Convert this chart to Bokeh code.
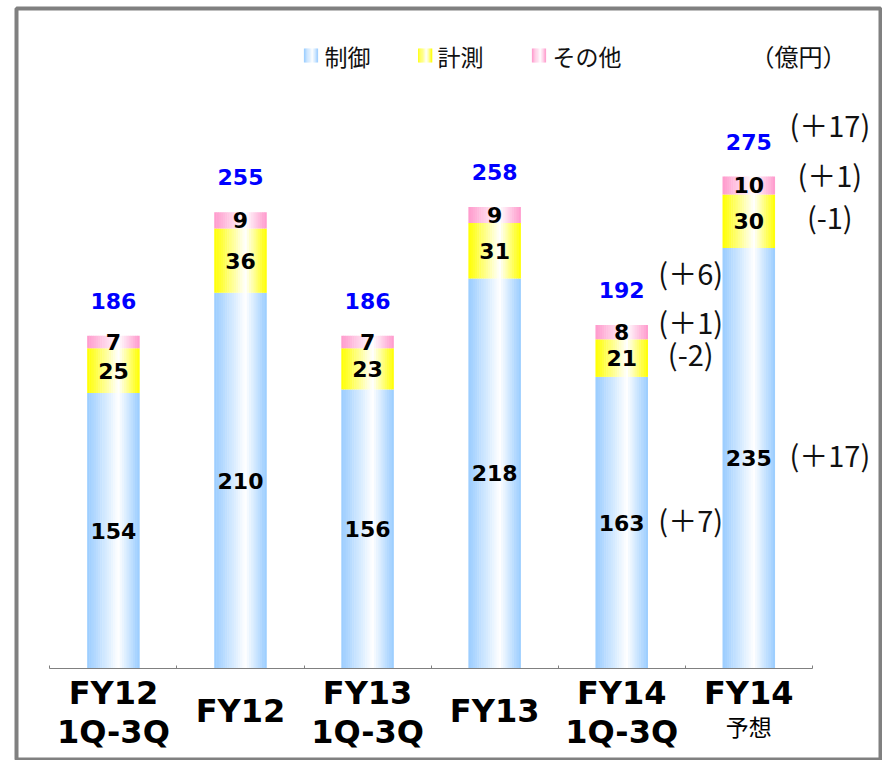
from bokeh.plotting import figure
from bokeh.models import Range1d, FixedTicker
from bokeh.core.properties import value
from bokeh.embed import file_html
from bokeh.resources import INLINE

# ---------------- data ----------------
line1 = ["FY12", "FY12", "FY13", "FY13", "FY14", "FY14"]
line2 = ["1Q-3Q", "", "1Q-3Q", "", "1Q-3Q", "予想"]
control = [154, 210, 156, 218, 163, 235]
measure = [25, 36, 23, 31, 21, 30]
other = [7, 9, 7, 9, 8, 10]
totals = [186, 255, 186, 258, 192, 275]
series_names = ["制御", "計測", "その他"]
unit_label = "（億円）"
diff_cols = [4, 5]
diff_total = ["(＋6)", "(＋17)"]
diff_other = ["(＋1)", "(＋1)"]
diff_measure = ["(-2)", "(-1)"]
diff_control = ["(＋7)", "(＋17)"]

# ---------------- layout / style ----------------
W, H = 882, 760
FRAME_L, FRAME_R, FRAME_T, FRAME_B = 16, 880, 8, 759
X0_PX, UNIT_X = 49.4, 127.07      # px of category-0 boundary, px per category
Y0_PX, UNIT_Y = 668.0, 1.789      # px of value 0, px per unit
BAR_W = 0.41
EDGE = ["#99CCFF", "#FFFF00", "#FF99CC"]
N_STRIPS = 24
BOLD = value("DejaVu Sans")
JP = value("Noto Sans CJK JP")


def dx(px):
    return (px - X0_PX) / UNIT_X


def dy(py):
    return (Y0_PX - py) / UNIT_Y


def mix(hexc, w):
    r, g, b = int(hexc[1:3], 16), int(hexc[3:5], 16), int(hexc[5:7], 16)
    r = round(255 + (r - 255) * w)
    g = round(255 + (g - 255) * w)
    b = round(255 + (b - 255) * w)
    return "#%02x%02x%02x" % (r, g, b)


def grad_w(t, c=0.6):
    return (c - t) / c if t < c else (t - c) / (1 - c)


p = figure(width=W, height=H, output_backend="svg", toolbar_location=None,
           x_range=Range1d(dx(FRAME_L), dx(FRAME_R)),
           y_range=Range1d(dy(FRAME_B), dy(FRAME_T)),
           y_axis_location=None,
           min_border_left=FRAME_L, min_border_right=W - FRAME_R,
           min_border_top=FRAME_T, min_border_bottom=H - FRAME_B)
p.xgrid.visible = False
p.ygrid.visible = False
p.outline_line_color = "#808080"
p.outline_line_width = 4
p.background_fill_color = "white"
p.border_fill_color = "white"

ax = p.xaxis[0]
ax.fixed_location = 0
ax.ticker = FixedTicker(ticks=list(range(len(line1) + 1)))
ax.bounds = (0, len(line1))
ax.axis_line_color = "#808080"
ax.axis_line_width = 1
ax.major_tick_line_color = "#808080"
ax.major_tick_in = 3
ax.major_tick_out = 0
ax.minor_tick_line_color = None
ax.major_label_text_color = None
ax.major_label_text_font_size = "0px"
ax.major_label_standoff = 0

# ---------------- gradient stacked bars ----------------
xs, bots, tops, cols = [], [], [], []
series = [control, measure, other]
for i in range(len(line1)):
    base = 0
    for s, vals in enumerate(series):
        v = vals[i]
        for k in range(N_STRIPS):
            t = (k + 0.5) / N_STRIPS
            xs.append(i + 0.5 - BAR_W / 2 + t * BAR_W)
            bots.append(base)
            tops.append(base + v)
            cols.append(mix(EDGE[s], grad_w(t)))
        base += v
p.vbar(x=xs, bottom=bots, top=tops, width=BAR_W / N_STRIPS * 1.2,
       fill_color=cols, line_color=None)

# ---------------- segment value labels ----------------
lx, ly, lt = [], [], []
for i in range(len(line1)):
    base = 0
    for vals in series:
        v = vals[i]
        lx.append(i + 0.5)
        ly.append(base + v / 2)
        lt.append(str(v))
        base += v
p.text(x=lx, y=ly, text=lt, text_font=BOLD, text_font_style="bold",
       text_font_size="22px", text_align="center", text_baseline="middle",
       text_color="black")

# totals
p.text(x=[i + 0.5 for i in range(len(totals))], y=totals,
       text=[str(t) for t in totals], y_offset=-35, text_font=BOLD,
       text_font_style="bold", text_font_size="22px", text_align="center",
       text_baseline="middle", text_color="#0000FF")

# ---------------- differences ----------------
DIFF_XOFF = [69, 81]
for j, c in enumerate(diff_cols):
    base_c = control[c]
    base_m = base_c + measure[c]
    entries = [(totals[c], -53, diff_total[j]),
               (base_m + other[c] / 2, -11, diff_other[j]),
               (base_c + measure[c] / 2, -5, diff_measure[j]),
               (base_c / 2, -4, diff_control[j])]
    for yv, yo, txt in entries:
        p.text(x=[c + 0.5], y=[yv], text=[txt], x_offset=DIFF_XOFF[j],
               y_offset=yo, text_font=JP, text_font_size="29px",
               text_align="center", text_baseline="middle", text_color="#111111")

# ---------------- category labels ----------------
for i in range(len(line1)):
    if line2[i] == "":
        p.text(x=[i + 0.5], y=[0], text=[line1[i]], y_offset=42, text_font=BOLD,
               text_font_style="bold", text_font_size="32px", text_align="center",
               text_baseline="middle", text_color="black")
    else:
        p.text(x=[i + 0.5], y=[0], text=[line1[i]], y_offset=24, text_font=BOLD,
               text_font_style="bold", text_font_size="32px", text_align="center",
               text_baseline="middle", text_color="black")
        if line2[i].isascii():
            p.text(x=[i + 0.5], y=[0], text=[line2[i]], y_offset=63, text_font=BOLD,
                   text_font_style="bold", text_font_size="32px", text_align="center",
                   text_baseline="middle", text_color="black")
        else:
            p.text(x=[i + 0.5], y=[0], text=[line2[i]], y_offset=57, text_font=JP,
                   text_font_size="23px", text_align="center",
                   text_baseline="middle", text_color="black")

# ---------------- legend ----------------
LEG_Y = 55
SW_CX = [310.5, 424.7, 538.5]
TX_L = [324, 437, 552]
SW = 14
lxs, lys, lcol = [], [], []
for s in range(len(series_names)):
    for k in range(N_STRIPS // 2):
        t = (k + 0.5) / (N_STRIPS // 2)
        lxs.append(dx(SW_CX[s] - SW / 2 + t * SW))
        lys.append(dy(LEG_Y))
        lcol.append(mix(EDGE[s], grad_w(t)))
p.rect(x=lxs, y=lys, width=SW / (N_STRIPS // 2) * 1.2, height=SW,
       width_units="screen", height_units="screen", fill_color=lcol, line_color=None)
p.text(x=[dx(v) for v in TX_L], y=[dy(LEG_Y)] * 3, text=series_names, text_font=JP,
       text_font_size="23px", text_align="left", text_baseline="middle",
       text_color="#111111")
p.text(x=[dx(750)], y=[dy(LEG_Y)], text=[unit_label], text_font=JP,
       text_font_size="24px", text_align="left", text_baseline="middle",
       text_color="#111111")

open("out.html", "w").write(file_html(p, INLINE))
